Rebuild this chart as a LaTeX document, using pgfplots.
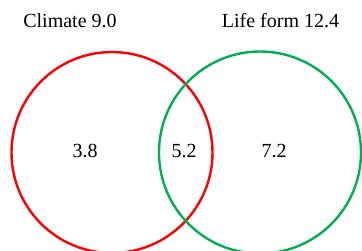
\documentclass[border=0pt]{standalone}
\usepackage{pgfplots}
\pgfplotsset{compat=1.18}
\usepackage{fontspec}
\setmainfont{Liberation Serif}
\definecolor{vred}{RGB}{255,0,0}
\definecolor{vgreen}{RGB}{0,176,80}
\begin{document}
\begin{tikzpicture}
\begin{axis}[
  at={(0,0)}, anchor=south west,
  scale only axis, width=362bp, height=251bp,
  xmin=0, xmax=362, ymin=0, ymax=251, y dir=reverse,
  axis lines=none, ticks=none, clip=true,
]
\draw[vred, line width=2.4bp] (axis cs:112,152.5) circle [radius=100.5];
\draw[vgreen, line width=2.4bp] (axis cs:260,152.5) circle [radius=101];
\node[anchor=base, font=\fontsize{20bp}{24bp}\selectfont, inner sep=0] at (axis cs:70,28) {Climate 9.0};
\node[anchor=base, font=\fontsize{20bp}{24bp}\selectfont, inner sep=0] at (axis cs:280.5,28) {Life form 12.4};
\node[anchor=base, font=\fontsize{20bp}{24bp}\selectfont, inner sep=0] at (axis cs:85,157) {3.8};
\node[anchor=base, font=\fontsize{20bp}{24bp}\selectfont, inner sep=0] at (axis cs:184,157) {5.2};
\node[anchor=base, font=\fontsize{20bp}{24bp}\selectfont, inner sep=0] at (axis cs:274,157) {7.2};
\end{axis}
\pgfresetboundingbox
\path[use as bounding box] (0,0) rectangle (362bp,251bp);
\end{tikzpicture}
\end{document}
